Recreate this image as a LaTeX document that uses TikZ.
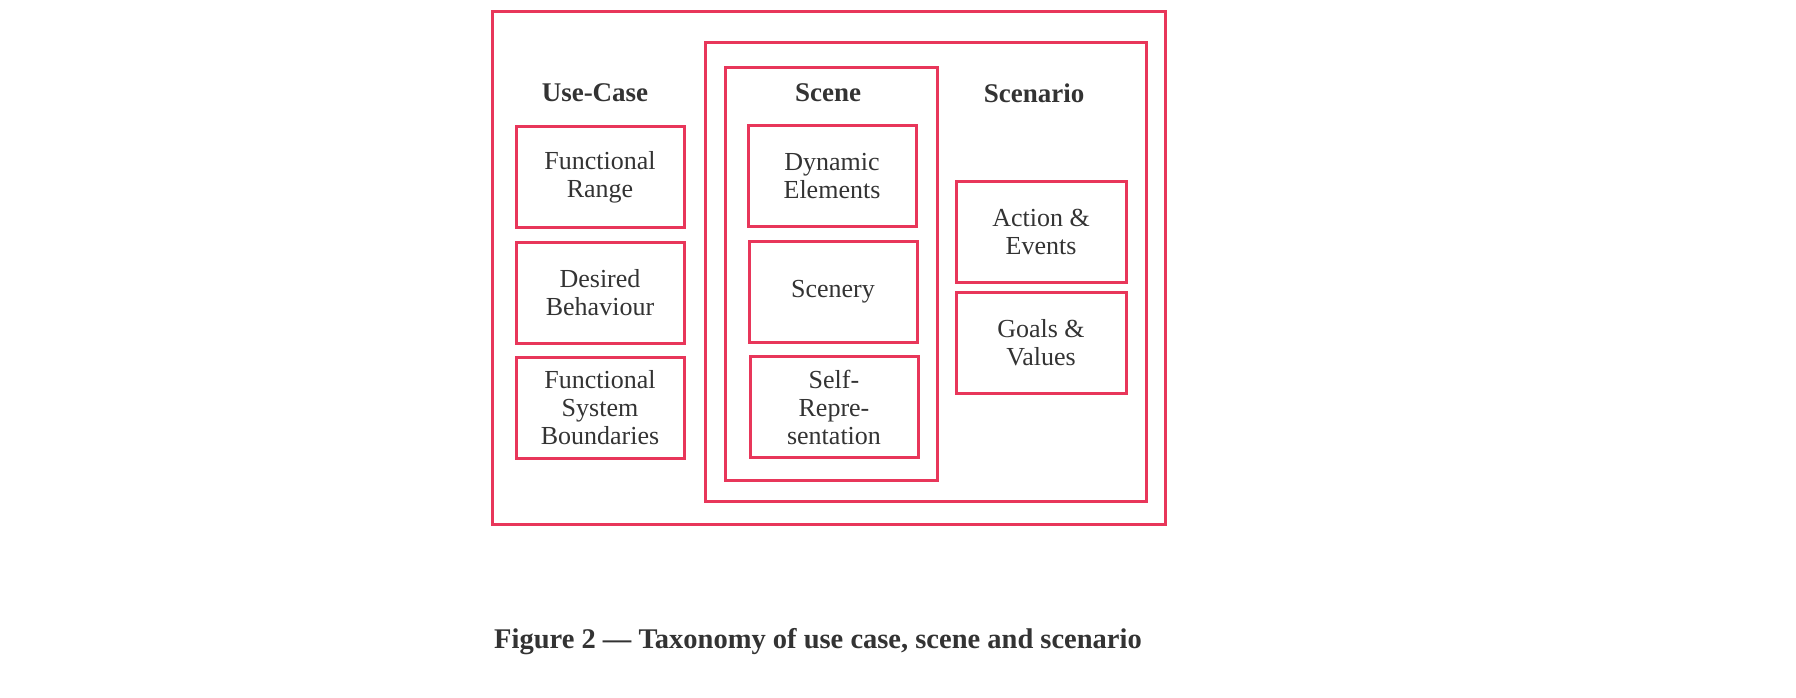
\documentclass[tikz,border=0pt]{standalone}
\usepackage{fontspec}
\setmainfont{Liberation Serif}
\usepackage{tikz}
\usetikzlibrary{positioning}
\definecolor{boxred}{HTML}{E8365A}
\definecolor{inkgray}{HTML}{333333}

\begin{document}
\begin{tikzpicture}
      [x=1pt,y=-1pt,
        frame/.style={draw=boxred,line width=3pt},
        item/.style={frame,minimum width=168pt,minimum height=101pt,align=center,
          text=inkgray,font=\fontsize{26}{28}\selectfont,inner sep=0pt},
        head/.style={text=inkgray,font=\fontsize{27}{30}\selectfont\bfseries}]
  \useasboundingbox (0,0) rectangle (1796,697);
  % containers
  \draw[frame] (492,11) rectangle (1165,524);
  \draw[frame] (705,42) rectangle (1146,501);
  \draw[frame] (725,67) rectangle (937,480);
  % headings
  \node[head] (usecase) at (595,93) {Use-Case};
  \node[head] (scene) at (828,93) {Scene};
  \node[head] (scenario) at (1034,93) {Scenario};
  % use-case
  \node[item] (range) at (600,177) {Functional\\Range};
  \node[item] (behav) at (600,293) {Desired\\Behaviour};
  \node[item] (bound) at (600,408) {Functional\\System\\Boundaries};
  % scene
  \node[item] (dyn) at (832,176) {Dynamic\\Elements};
  \node[item] (scenery) at (833,292) {Scenery};
  \node[item] (self) at (834,407) {Self-\\Repre-\\sentation};
  % scenario
  \node[item,minimum width=170pt] (action) at (1041,232) {Action \&\\Events};
  \node[item,minimum width=170pt] (goals) at (1041,343) {Goals \&\\Values};
  % caption
  \node[text=inkgray,font=\fontsize{28.5}{32}\selectfont\bfseries] (caption) at (818,642)
    {Figure 2 --- Taxonomy of use case, scene and scenario};
\end{tikzpicture}
\end{document}
